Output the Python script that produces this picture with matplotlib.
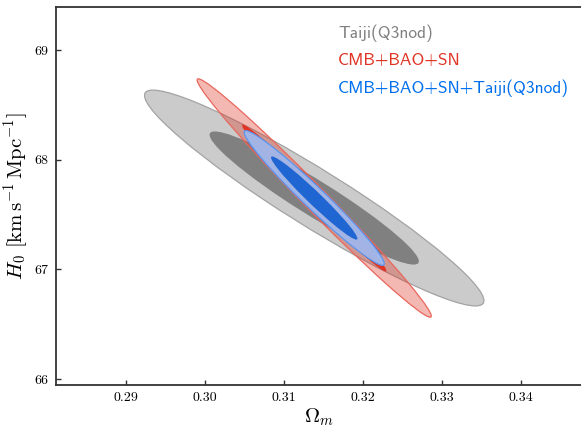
import numpy as np
import matplotlib
matplotlib.use("Agg")
import matplotlib.pyplot as plt
from matplotlib.patches import Ellipse

plt.rcParams['mathtext.fontset'] = 'cm'

# fiducial point and Fisher-forecast errors (Omega_m, H0)
fiducial = [0.3138, 67.65]
labels = ['Taiji(Q3nod)', 'CMB+BAO+SN', 'CMB+BAO+SN+Taiji(Q3nod)']
sigma_om = [0.00877, 0.00605, 0.00362]
sigma_h0 = [0.402, 0.444, 0.251]
rho = [-0.950, -0.990, -0.975]
levels = [0.68, 0.95]

xticks = [0.29, 0.30, 0.31, 0.32, 0.33, 0.34]
xticklabels = ['0.29', '0.30', '0.31', '0.32', '0.33', '0.34']
yticks = [66, 67, 68, 69]
yticklabels = ['66', '67', '68', '69']

text_colors = ['#808080', '#E03424', '#006FED']
# (outer face, outer alpha, outer edge, inner face)
styles = [
    ('#cbcbcb', 1.0, '#a3a3a3', '#808080'),
    ('#E03424', 0.35, '#e8675c', '#E03424'),
    ('#a0b8ec', 0.97, '#5b95ee', '#1f66d2'),
]


def add_ellipse(ax, cov, k, **kw):
    vals, vecs = np.linalg.eigh(cov)
    order = vals.argsort()[::-1]
    vals, vecs = vals[order], vecs[:, order]
    angle = np.degrees(np.arctan2(vecs[1, 0], vecs[0, 0]))
    e = Ellipse(fiducial, 2 * k * np.sqrt(vals[0]), 2 * k * np.sqrt(vals[1]),
                angle=angle, **kw)
    ax.add_patch(e)
    return e


fig = plt.figure(figsize=(5.81, 4.28), dpi=100)
ax = fig.add_axes([55.7 / 581, 1 - 385 / 428, (583 - 55.7) / 581, (385 - 7.3) / 428])

k68 = np.sqrt(-2 * np.log(1 - levels[0]))
k95 = np.sqrt(-2 * np.log(1 - levels[1]))

z = 1
for i in range(3):
    sx, sy, r = sigma_om[i], sigma_h0[i], rho[i]
    cov = np.array([[sx**2, r * sx * sy], [r * sx * sy, sy**2]])
    outer_fc, outer_a, outer_ec, inner_fc = styles[i]
    add_ellipse(ax, cov, k95, facecolor=outer_fc, alpha=outer_a, edgecolor='none', zorder=z)
    add_ellipse(ax, cov, k95, facecolor='none', edgecolor=outer_ec, lw=0.9, zorder=z + 0.1)
    add_ellipse(ax, cov, k68, facecolor=inner_fc, edgecolor='none', zorder=z + 0.2)
    z += 1

ax.set_xlim(0.2811, 0.3478)
ax.set_ylim(65.945, 69.389)
ax.set_xticks(xticks)
ax.set_xticklabels(xticklabels, fontfamily='cmr10', fontsize=10)
ax.set_yticks(yticks)
ax.set_yticklabels(yticklabels, fontfamily='cmr10', fontsize=10)
ax.tick_params(direction='in', length=3.5, width=1, color='#333333', pad=5)
for s in ax.spines.values():
    s.set_linewidth(1.3)
    s.set_color('#333333')

ax.set_xlabel(r'$\Omega_m$', fontsize=15)
ax.set_ylabel(r'$H_0\ [{\rm km\,s^{-1}\,Mpc^{-1}}]$', fontsize=15)
ax.xaxis.set_label_coords(0.5, -0.056)
ax.yaxis.set_label_coords(-0.047, 0.5)

ypos = [0.932, 0.860, 0.786]
for lab, c, yy in zip(labels, text_colors, ypos):
    ax.text(0.5354, yy, lab, color=c, fontfamily='cmss10', fontsize=12.5,
            transform=ax.transAxes, va='center', ha='left')

fig.savefig('out.png', dpi=100)
